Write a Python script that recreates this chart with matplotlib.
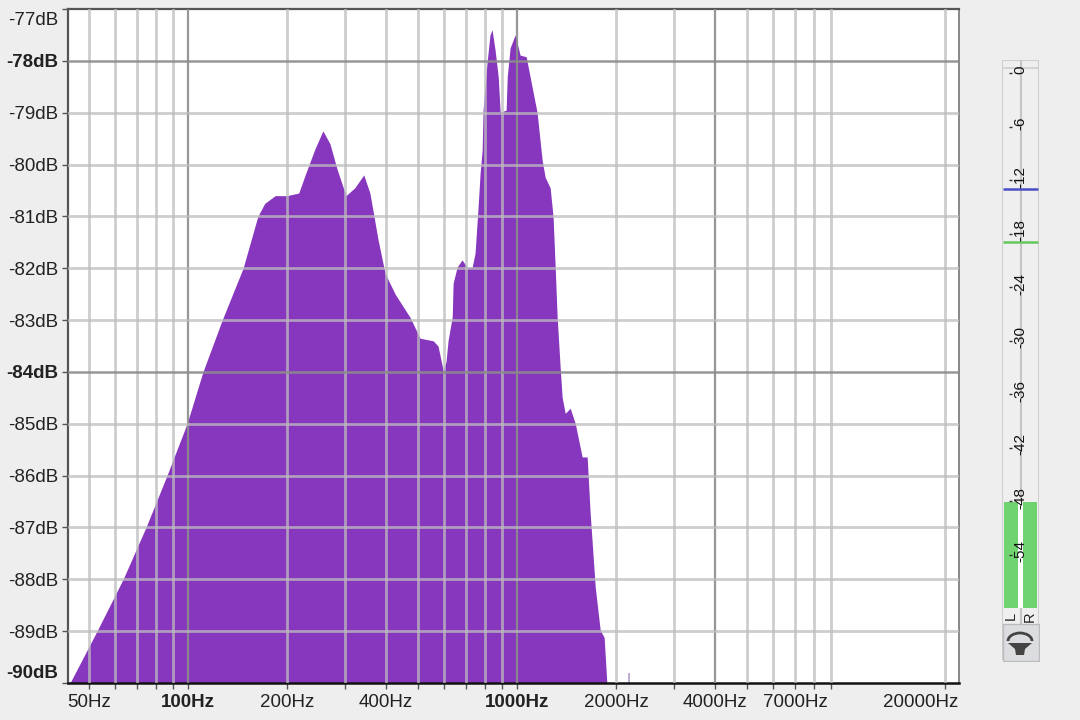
#!/usr/bin/env python3
"""Spectrum plot (dB over log frequency) with a level meter strip on the right."""

import matplotlib
matplotlib.use("Agg")
import matplotlib.pyplot as plt
from matplotlib.patches import Arc, Polygon, Rectangle
from matplotlib.transforms import ScaledTranslation

plt.rcParams["font.family"] = ["Liberation Sans", "DejaVu Sans"]

# spectrum outline
freq_hz = [43.8, 52.9, 63.5, 74.5, 86.3, 99.3, 111, 127, 147, 163, 171, 184, 200, 217, 227,
           243, 257, 270, 284, 302, 321, 342, 357, 378, 397, 426, 473, 507, 556,
           575, 596, 608, 617, 635, 639, 657, 680, 705, 730, 745, 761, 772, 783, 788,
           799, 810, 827, 839, 857, 876, 888, 900, 926, 933, 952, 986, 1021, 1065,
           1110, 1150, 1191, 1216, 1260, 1286, 1305, 1323, 1351, 1370, 1400, 1449,
           1501, 1576, 1632, 1667, 1727, 1788, 1838, 1873]
level_db = [-90, -89, -88, -87, -86, -85, -84, -83, -82, -81, -80.75, -80.6, -80.6,
            -80.55, -80.2, -79.7, -79.35, -79.6, -80.1, -80.6, -80.45, -80.2, -80.55,
            -81.45, -82.1, -82.5, -82.95, -83.35, -83.4, -83.5, -83.97, -83.8, -83.39,
            -82.94, -82.29, -81.98, -81.84, -81.98, -81.98, -81.71, -80.82, -80.16,
            -79.72, -78.95, -78.5, -78.04, -77.5, -77.4, -77.79, -78.31, -78.98, -78.98,
            -78.95, -78.31, -77.75, -77.5, -77.89, -77.92, -78.5, -79.0, -79.91, -80.24,
            -80.45, -81.01, -81.98, -82.94, -83.9, -84.49, -84.8, -84.7, -84.99, -85.64,
            -85.64, -86.73, -88.15, -88.98, -89.12, -90]
spike_hz = 2188
spike_db = -89.8

grid_hz = [50, 60, 70, 80, 90, 100, 200, 300, 400, 500, 600, 700, 800, 900, 1000,
           2000, 3000, 4000, 5000, 6000, 7000, 8000, 9000, 20000]
labelled_hz = [50, 100, 200, 400, 1000, 2000, 4000, 7000, 20000]
bold_hz = [100, 1000]
dark_hz = [100, 1000, 4000]

grid_db = [-77, -78, -79, -80, -81, -82, -83, -84, -85, -86, -87, -88, -89, -90]
bold_db = [-78, -84, -90]
dark_db = [-78, -84]

meter_ticks = [0, -6, -12, -18, -24, -30, -36, -42, -48, -54]
meter_level = -48.1
meter_floor = -60
meter_blue = -13
meter_green = -18.9

BG = "#eeeeee"
PURPLE = "#8737bd"
W, H = 1080, 720


def px_axes(fig, left, top, right, bottom):
    return fig.add_axes([left / W, 1 - bottom / H, (right - left) / W, (bottom - top) / H])


def plot_spectrum(fig):
    ax = px_axes(fig, 68, 9, 959, 683)
    ax.set_xscale("log")
    ax.set_xlim(43.2, 22000)
    ax.set_ylim(-90, -77)
    ax.fill_between(freq_hz, level_db, -90, color=PURPLE, lw=0, zorder=2)
    ax.vlines(spike_hz, -90, spike_db, color="#b9a0cc", lw=1.2, zorder=2)

    for f in grid_hz:
        if f in dark_hz:
            ax.axvline(f, color="#8c8c8c", lw=1.6, alpha=0.9, zorder=3)
        else:
            ax.axvline(f, color="#bdbdbd", lw=2.0, alpha=0.75, zorder=3)
    for d in grid_db[1:-1]:
        if d in dark_db:
            ax.axhline(d, color="#8c8c8c", lw=1.8, alpha=0.9, zorder=3)
        else:
            ax.axhline(d, color="#bdbdbd", lw=2.0, alpha=0.75, zorder=3)

    ax.minorticks_off()
    ax.set_xticks(grid_hz)
    ax.set_xticklabels([f"{f}Hz" if f in labelled_hz else "" for f in grid_hz])
    ax.set_yticks(grid_db)
    ax.set_yticklabels([f"{d}dB" for d in grid_db])
    ax.tick_params(axis="both", labelsize=13.5, length=4, width=1, color="#555555",
                   labelcolor="#222222", pad=3)
    ax.tick_params(axis="x", pad=4)

    for f, lab in zip(grid_hz, ax.get_xticklabels()):
        if f in bold_hz:
            lab.set_fontweight("bold")
        if f == 20000:
            lab.set_ha("right")
            lab.set_transform(lab.get_transform() + ScaledTranslation(13 / 100, 0, fig.dpi_scale_trans))
    for d, lab in zip(grid_db, ax.get_yticklabels()):
        if d in bold_db:
            lab.set_fontweight("bold")
        if d == -77:
            lab.set_transform(lab.get_transform() + ScaledTranslation(0, -10 / 100, fig.dpi_scale_trans))
        if d == -90:
            lab.set_transform(lab.get_transform() + ScaledTranslation(0, 11 / 100, fig.dpi_scale_trans))

    ax.spines["top"].set(color="#555555", lw=1.6)
    ax.spines["left"].set(color="#555555", lw=1.6)
    ax.spines["bottom"].set(color="#111111", lw=1.8)
    ax.spines["right"].set(color="#888888", lw=1.4)


def plot_meter(fig):
    # the strip's dB scale runs over the full height of the widget
    ax = px_axes(fig, 1002, 60, 1039, 660)
    ax.set_xlim(0, 37)
    ax.set_ylim(-65.8, 1.46)
    ax.axis("off")

    ax.add_patch(Rectangle((0, -65.8), 37, 67.26, fc="#efefef", ec="#cfcfcf", lw=1.5))
    ax.axvline(18.5, color="#c4c4c4", lw=1.5, zorder=1)
    ax.axhline(0.6, color="#cfcfcf", lw=1.2, zorder=1)
    ax.bar([9, 28], meter_level - meter_floor, bottom=meter_floor, width=14,
           color="#6fd46f", zorder=2)
    ax.bar(18.5, meter_level - meter_floor, bottom=meter_floor, width=5,
           color="white", zorder=2)
    ax.hlines(meter_blue, 1, 36, color="#4a4fc8", lw=1.8, zorder=3)
    ax.hlines(meter_green, 1, 36, color="#62c85a", lw=1.8, zorder=3)

    for t in meter_ticks:
        ax.text(18.5, t + 0.4, str(t), rotation=90, ha="center", va="center",
                fontsize=11, color="#111111", zorder=4)
        ax.hlines(t, 7, 10, color="#333333", lw=1, zorder=4)

    ax.text(9, -60.9, "L", rotation=90, ha="center", va="center", fontsize=10.5, color="#222222")
    ax.text(28, -60.9, "R", rotation=90, ha="center", va="center", fontsize=10.5, color="#222222")


def plot_button(fig):
    ax = px_axes(fig, 1002, 622, 1040, 662)
    ax.set_xlim(0, 38)
    ax.set_ylim(40, 0)
    ax.axis("off")
    ax.add_patch(Rectangle((1, 2), 36, 37, fc="#dcdde0", ec="#bcbcbc", lw=1))
    ax.add_patch(Arc((18, 19), 24, 16, theta1=180, theta2=360, color="#444444", lw=2))
    ax.add_patch(Polygon([(6, 21), (30, 21), (23, 27), (22, 33), (14, 33), (13, 27)],
                         closed=True, fc="#444444", ec="none"))


def main():
    fig = plt.figure(figsize=(10.8, 7.2), dpi=100, facecolor=BG)
    plot_spectrum(fig)
    plot_meter(fig)
    plot_button(fig)
    fig.savefig("out.png", dpi=100, facecolor=BG)
    plt.close(fig)


if __name__ == "__main__":
    main()
